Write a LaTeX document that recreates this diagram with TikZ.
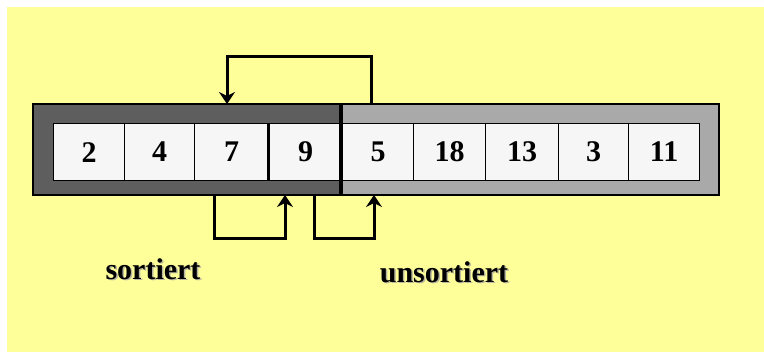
\documentclass[tikz,border=0pt]{standalone}
\usepackage{fontspec}
\setmainfont{Liberation Serif}
\usetikzlibrary{arrows.meta}
\definecolor{bgyellow}{HTML}{FFFF99}
\definecolor{darkbar}{HTML}{5E5E5E}
\definecolor{lightbar}{HTML}{A9A9A9}
\definecolor{cellfill}{HTML}{F6F6F6}
\definecolor{shadowgray}{HTML}{B8B8A0}
\tikzset{
  cellbox/.style={draw=black, line width=1.2pt, fill=cellfill, minimum height=57pt, inner sep=0pt, anchor=north west,
    font=\fontsize{30}{30}\selectfont\bfseries},
  conn/.style={line width=3pt, draw=black},
  tip/.style={-{Stealth[length=12pt,width=16pt,inset=4pt]}},
  lbl/.style={font=\fontsize{30}{30}\selectfont\bfseries, inner sep=0pt},
  lblshadow/.style={lbl, text=shadowgray}
}
\begin{document}
\begin{tikzpicture}[x=1pt,y=-1pt]
\useasboundingbox (0,0) rectangle (764,352);
\fill[white] (0,0) rectangle (764,352);
\fill[bgyellow] (7,7) rectangle (764,352);
% bar
\fill[darkbar] (33,104) rectangle (341,195);
\fill[lightbar] (341,104) rectangle (719,195);
\draw[line width=1.2pt] (33,104) rectangle (719,195);
\node[draw=none, minimum width=686pt, minimum height=91pt, inner sep=0pt, anchor=north west] (bar) at (33,104) {};
% cells
\node[cellbox, minimum width=71pt] (c1) at (53,123) {2};
\node[cellbox, minimum width=70pt] (c2) at (124,123) {4};
\node[cellbox, minimum width=74pt] (c3) at (194,123) {7};
\node[cellbox, minimum width=74pt] (c4) at (268,123) {9};
\node[cellbox, minimum width=71pt] (c5) at (342,123) {5};
\node[cellbox, minimum width=72pt] (c6) at (413,123) {18};
\node[cellbox, minimum width=73pt] (c7) at (485,123) {13};
\node[cellbox, minimum width=70pt] (c8) at (558,123) {3};
\node[cellbox, minimum width=71pt] (c9) at (628,123) {11};
% thick separators
\draw[line width=3pt] (c4.north west) -- (c4.south west);
\draw[line width=3.5pt] (341,104) -- (341,195);
% connector points
\coordinate (t5) at (371,104);
\coordinate (t3) at (227,104);
\coordinate (b3) at (214,195);
\coordinate (b4a) at (285,195);
\coordinate (b4b) at (314,195);
\coordinate (b5) at (374,195);
% top arrow
\draw[conn, tip] (t5) -- (t5 |- 0,57) -- (t3 |- 0,57) -- (t3);
% bottom arrows
\draw[conn, tip] (b3) -- (b3 |- 0,239) -- (b4a |- 0,239) -- (b4a);
\draw[conn, tip] (b4b) -- (b4b |- 0,239) -- (b5 |- 0,239) -- (b5);
% labels
\node[lblshadow] at (154.5,270.5) {sortiert};
\node[lbl] (ls) at (153,269) {sortiert};
\node[lblshadow] at (445.5,273.5) {unsortiert};
\node[lbl] (lu) at (444,272) {unsortiert};
\end{tikzpicture}
\end{document}
